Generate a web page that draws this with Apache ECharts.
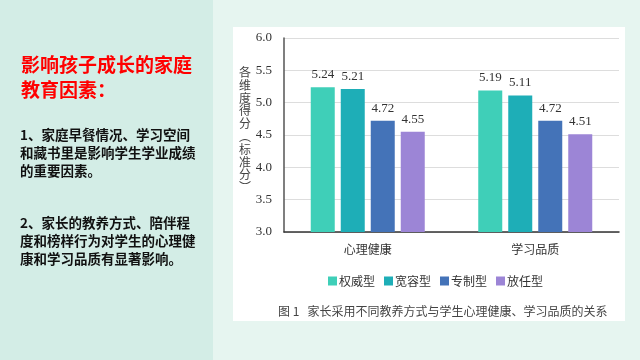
<!DOCTYPE html>
<html><head><meta charset="utf-8">
<style>html,body{margin:0;padding:0;background:#e6f5f0;}#c{width:640px;height:360px;}</style>
<script src="https://cdn.jsdelivr.net/npm/echarts@6/dist/echarts.min.js"></script>
</head><body><div id="c"></div>
<script>
var categories = ['心理健康', '学习品质'];
var seriesNames = ['权威型', '宽容型', '专制型', '放任型'];
var authoritative = [5.24, 5.19];
var permissive = [5.21, 5.11];
var authoritarian = [4.72, 4.72];
var neglectful = [4.55, 4.51];
var yTicks = [3.0, 3.5, 4.0, 4.5, 5.0, 5.5, 6.0];
var yName = '各维度得分︵标准分︶';
var titleText = '影响孩子成长的家庭\n教育因素：';
var point1 = '1、家庭早餐情况、学习空间\n和藏书里是影响学生学业成绩\n的重要因素。';
var point2 = '2、家长的教养方式、陪伴程\n度和榜样行为对学生的心理健\n康和学习品质有显著影响。';
var caption = '图 1   家长采用不同教养方式与学生心理健康、学习品质的关系';

var colors = ['#3fcfb8', '#1eaeb7', '#4473b8', '#9c85d6'];
var values = [authoritative, permissive, authoritarian, neglectful];
var serif = '"Liberation Serif", "Times New Roman", serif';
var cjk = '"Noto Sans CJK SC", sans-serif';

var chart = echarts.init(document.getElementById('c'));
var series = seriesNames.map(function (n, i) {
  return {
    name: n, type: 'bar', data: values[i], barWidth: 24, barGap: '25%',
    itemStyle: { color: colors[i] },
    label: { show: true, position: 'top', distance: 6, color: '#333', fontFamily: serif, fontSize: 13,
      formatter: function (p) { return p.value.toFixed(2); } }
  };
});
chart.setOption({
  backgroundColor: '#e6f5f0',
  animation: false,
  graphic: [
    { type: 'rect', shape: { x: 0, y: 0, width: 213, height: 360 }, style: { fill: '#d3ede6' }, z: -10 },
    { type: 'rect', shape: { x: 233, y: 27, width: 392, height: 294 }, style: { fill: '#ffffff' }, z: -10 },
    { type: 'text', left: 21, top: 52, style: { text: titleText, fill: '#ff0000', font: 'bold 19px ' + cjk, lineHeight: 25 } },
    { type: 'text', left: 20, top: 126, style: { text: point1, fill: '#111', font: 'bold 13.5px ' + cjk, lineHeight: 18 } },
    { type: 'text', left: 20, top: 214, style: { text: point2, fill: '#111', font: 'bold 13.5px ' + cjk, lineHeight: 18 } },
    { type: 'text', left: 239, top: 66, style: { text: yName.split('').join('\n'), fill: '#444', font: '12px ' + cjk, lineHeight: 12.8 } },
    { type: 'text', left: 278, top: 305, style: { text: caption, fill: '#444', font: '12px ' + cjk } }
  ],
  legend: {
    left: 323, top: 270, itemWidth: 9, itemHeight: 9, itemGap: 9, icon: 'rect',
    textStyle: { fontFamily: cjk, fontSize: 12, color: '#333', padding: [0, 0, 0, -3] },
    data: seriesNames
  },
  grid: { left: 284, right: 21, top: 38, bottom: 128, containLabel: false },
  xAxis: {
    type: 'category', data: categories,
    axisLine: { lineStyle: { color: '#333', width: 1.5 } }, axisTick: { show: false },
    axisLabel: { color: '#333', fontFamily: cjk, fontSize: 12, margin: 11 }
  },
  yAxis: {
    type: 'value', min: 3, max: 6, interval: 0.5,
    axisLine: { show: true, lineStyle: { color: '#555', width: 1.5 } }, axisTick: { show: false },
    splitLine: { lineStyle: { color: '#dddddd' } },
    axisLabel: { color: '#333', fontFamily: serif, fontSize: 13, margin: 12,
      formatter: function (v) { return yTicks.indexOf(v) >= 0 ? v.toFixed(1) : ''; } }
  },
  series: series
});
</script></body></html>
